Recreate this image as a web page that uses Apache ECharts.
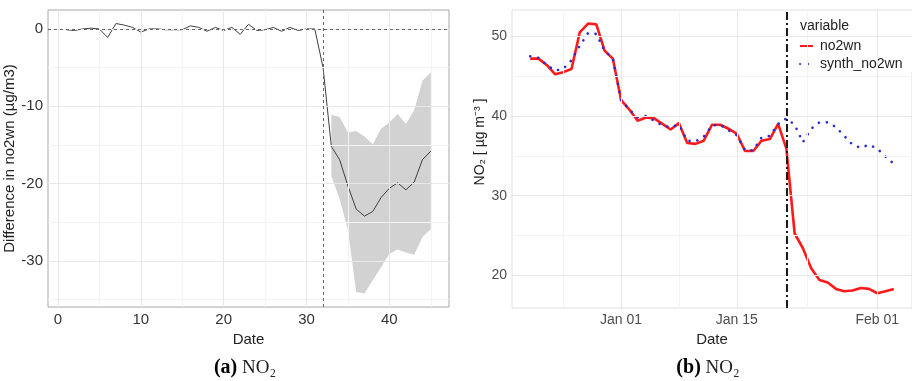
<!DOCTYPE html>
<html>
<head>
<meta charset="utf-8">
<script src="https://cdn.jsdelivr.net/npm/echarts@6/dist/echarts.min.js"></script>
<style>html,body{margin:0;padding:0;background:#fff;}#c{width:912px;height:381px;}</style>
</head>
<body>
<div id="c"></div>
<script>
// ---------- Panel (a): difference series ----------
const days = [1,2,3,4,5,6,7,8,9,10,11,12,13,14,15,16,17,18,19,20,21,22,23,24,25,26,27,28,29,30,31,32,33,34,35,36,37,38,39,40,41,42,43,44,45];
const diffValues = [-0.1,-0.2,0.0,0.1,0.0,-1.1,0.7,0.5,0.2,-0.4,0.0,0.0,-0.1,-0.1,-0.1,0.4,0.2,-0.3,0.2,-0.2,0.2,-0.7,0.6,-0.2,-0.1,0.2,-0.3,0.2,-0.2,0.0,0.0,-5.0,-15.2,-16.9,-20.3,-23.3,-24.2,-23.6,-21.8,-20.6,-19.9,-20.8,-19.8,-16.9,-15.8];
const ribbonDays  = [33,34,35,36,37,38,39,40,41,42,43,44,45];
const ribbonUpper = [-11.1,-11.4,-13.4,-13.2,-13.9,-14.9,-12.9,-12.1,-11.0,-12.3,-10.5,-6.7,-5.6];
const ribbonLower = [-19.0,-22.0,-26.0,-34.0,-34.2,-32.5,-30.8,-29.1,-28.5,-28.9,-29.2,-26.9,-25.9];
const leftXTicks = [0,10,20,30,40];
const leftYTicks = [0,-10,-20,-30];
const interventionDay = 32;

// ---------- Panel (b): observed vs synthetic ----------
const dates = ['2019-12-21','2019-12-22','2019-12-23','2019-12-24','2019-12-25','2019-12-26','2019-12-27','2019-12-28','2019-12-29','2019-12-30','2019-12-31',
  '2020-01-01','2020-01-02','2020-01-03','2020-01-04','2020-01-05','2020-01-06','2020-01-07','2020-01-08','2020-01-09','2020-01-10','2020-01-11','2020-01-12','2020-01-13','2020-01-14','2020-01-15','2020-01-16','2020-01-17','2020-01-18','2020-01-19','2020-01-20','2020-01-21','2020-01-22','2020-01-23','2020-01-24','2020-01-25','2020-01-26','2020-01-27','2020-01-28','2020-01-29','2020-01-30','2020-01-31','2020-02-01','2020-02-02','2020-02-03'];
const no2wn = [47.2,47.2,46.4,45.25,45.5,45.9,50.5,51.6,51.5,48.2,47.2,42.0,40.8,39.4,39.8,39.7,39.0,38.3,39.1,36.6,36.5,36.9,38.9,38.9,38.4,37.75,35.6,35.6,36.9,37.1,39.0,35.9,25.25,23.4,20.9,19.4,19.1,18.3,18.0,18.1,18.4,18.3,17.75,18.0,18.3];
const synthNo2wn = [47.5,47.3,46.4,45.7,45.9,47.0,48.8,50.4,50.3,48.2,47.2,42.0,40.8,39.8,40.0,39.4,38.8,38.6,38.9,36.9,36.8,37.4,38.8,38.9,38.2,37.6,35.7,35.7,37.3,37.5,39.0,39.7,38.9,36.7,38.4,39.2,39.2,38.6,37.5,36.4,36.0,36.4,35.9,34.9,34.0];
const rightTickDates  = ['2020-01-01','2020-01-15','2020-02-01'];
const rightTickLabels = ['Jan 01','Jan 15','Feb 01'];
const rightMinorDates = ['2019-12-25','2020-01-08','2020-01-23T12:00:00'];
const rightYTicks = [20,30,40,50];
const rightYMinor = [25,35,45];
const lockdownDate = '2020-01-21';

// helpers: day offset from Jan 01
const ref = Date.UTC(2020,0,1);
function off(s){ const p = s.split('T')[0].split('-').map(Number); let v=(Date.UTC(p[0],p[1]-1,p[2])-ref)/86400000; if(s.indexOf('T12')>0) v+=0.5; return v; }
const dayOff = dates.map(off);
const rightTickVals = rightTickDates.map(off);

const FONT = 'Liberation Sans';
const majorGrid = {color:'#e8e8e8', width:1, type:'solid'};
const minorGrid = {color:'#f3f3f3', width:1, type:'solid'};

function gridLines(xMajor, xMinor, yMajor, yMinor){
  const d = [];
  xMinor.forEach(v=>d.push({xAxis:v, lineStyle:minorGrid}));
  yMinor.forEach(v=>d.push({yAxis:v, lineStyle:minorGrid}));
  xMajor.forEach(v=>d.push({xAxis:v, lineStyle:majorGrid}));
  yMajor.forEach(v=>d.push({yAxis:v, lineStyle:majorGrid}));
  return {silent:true, symbol:['none','none'], label:{show:false}, animation:false, data:d};
}

const chart = echarts.init(document.getElementById('c'), null, {renderer:'canvas'});
const option = {
  animation:false,
  grid:[
    {left:48, top:10, width:401, height:297, show:true, borderColor:'#a8a8a8', borderWidth:1, backgroundColor:'transparent'},
    {left:512, top:10, width:400, height:298, show:true, borderColor:'#e0e0e0', borderWidth:1, backgroundColor:'transparent'}
  ],
  xAxis:[
    {gridIndex:0, type:'value', min:-1.2, max:47.2, splitLine:{show:false}, axisLine:{show:false}, axisTick:{show:false},
     axisLabel:{customValues:leftXTicks, color:'#333', fontSize:15, fontFamily:FONT, margin:5},
     name:'Date', nameLocation:'middle', nameGap:22, nameTextStyle:{fontSize:15, color:'#222', fontFamily:FONT}},
    {gridIndex:1, type:'value', min:-13.2, max:35.2, splitLine:{show:false}, axisLine:{show:false}, axisTick:{show:false},
     axisLabel:{customValues:rightTickVals, color:'#4d4d4d', fontSize:14, fontFamily:FONT, margin:5,
       formatter:function(v){ const i = rightTickVals.indexOf(v); return i>=0 ? rightTickLabels[i] : ''; }},
     name:'Date', nameLocation:'middle', nameGap:21, nameTextStyle:{fontSize:15, color:'#222', fontFamily:FONT}}
  ],
  yAxis:[
    {gridIndex:0, type:'value', min:-35.95, max:2.45, splitLine:{show:false}, axisLine:{show:false}, axisTick:{show:false},
     axisLabel:{customValues:leftYTicks, color:'#333', fontSize:15, fontFamily:FONT, margin:5},
     name:'Difference in no2wn (µg/m3)', nameLocation:'middle', nameGap:27, nameTextStyle:{fontSize:15, color:'#222', fontFamily:FONT}},
    {gridIndex:1, type:'value', min:15.9, max:53.3, splitLine:{show:false}, axisLine:{show:false}, axisTick:{show:false},
     axisLabel:{customValues:rightYTicks, color:'#4d4d4d', fontSize:14, fontFamily:FONT, margin:5},
     name:'NO₂ [ µg m⁻³ ]', nameLocation:'middle', nameGap:24, nameTextStyle:{fontSize:14, color:'#222', fontFamily:FONT, padding:[0,0,0,34]}}
  ],
  legend:{
    left:799, top:39, orient:'vertical', itemWidth:13, itemHeight:10, itemGap:4, padding:0,
    itemStyle:{opacity:0},
    textStyle:{fontSize:14, color:'#222', fontFamily:FONT, padding:[0,0,0,2]},
    data:['no2wn','synth_no2wn']
  },
  graphic:[
    {type:'rect', z:3, shape:{x:794, y:11, width:118, height:61}, style:{fill:'#ffffff'}},
    {type:'text', z:5, x:800, y:26, style:{text:'variable', fontSize:14, fontFamily:FONT, fill:'#222', verticalAlign:'middle', align:'left'}},
    {type:'text', z:5, x:245, y:368, style:{text:'{b|(a)}{n| NO₂}', align:'center', verticalAlign:'middle',
      rich:{b:{fontFamily:'Liberation Serif', fontWeight:'bold', fontSize:20, fill:'#000'}, n:{fontFamily:'Liberation Serif', fontSize:19, fill:'#222'}}}},
    {type:'text', z:5, x:708, y:368, style:{text:'{b|(b)}{n| NO₂}', align:'center', verticalAlign:'middle',
      rich:{b:{fontFamily:'Liberation Serif', fontWeight:'bold', fontSize:20, fill:'#000'}, n:{fontFamily:'Liberation Serif', fontSize:19, fill:'#222'}}}}
  ],
  series:[
    {type:'line', xAxisIndex:0, yAxisIndex:0, data:[], z:1, silent:true,
     markLine:gridLines(leftXTicks, [5,15,25,35,45], leftYTicks, [-5,-15,-25,-35])},
    {type:'custom', xAxisIndex:0, yAxisIndex:0, z:2, silent:true, clip:true,
     data:ribbonDays.map((d,i)=>[d, ribbonLower[i], ribbonUpper[i]]),
     encode:{x:0, y:[1,2]},
     renderItem:function(params, api){
       if(params.dataIndex!==0) return null;
       const pts=[];
       for(let i=0;i<ribbonDays.length;i++) pts.push(api.coord([ribbonDays[i], ribbonUpper[i]]));
       for(let i=ribbonDays.length-1;i>=0;i--) pts.push(api.coord([ribbonDays[i], ribbonLower[i]]));
       return {type:'polygon', shape:{points:pts}, style:{fill:'#d2d2d2', stroke:null}};
     }},
    {type:'line', xAxisIndex:0, yAxisIndex:0, z:3, name:'diff', symbol:'none', silent:true,
     data:days.map((d,i)=>[d, diffValues[i]]), lineStyle:{color:'#3f3f3f', width:1},
     markLine:{silent:true, symbol:['none','none'], label:{show:false},
       lineStyle:{color:'#666', width:1, type:[3,3]},
       data:[{yAxis:0},{xAxis:interventionDay}]}},
    {type:'line', xAxisIndex:1, yAxisIndex:1, data:[], z:1, silent:true,
     markLine:gridLines(rightTickVals, rightMinorDates.map(off), rightYTicks, rightYMinor)},
    {type:'line', xAxisIndex:1, yAxisIndex:1, z:4, name:'no2wn', symbol:'none', silent:true,
     data:dayOff.map((d,i)=>[d, no2wn[i]]), lineStyle:{color:'#ff1a1a', width:2.6}, itemStyle:{color:'#ff1a1a'},
     markLine:{silent:true, symbol:['none','none'], label:{show:false},
       lineStyle:{color:'#1a1a1a', width:2, type:[8,3,2,3]},
       data:[{xAxis:off(lockdownDate)}]}},
    {type:'line', xAxisIndex:1, yAxisIndex:1, z:4, name:'synth_no2wn', symbol:'none', silent:true,
     data:dayOff.map((d,i)=>[d, synthNo2wn[i]]), lineStyle:{color:'#2a2ad4', width:2.6, type:[0.1,8], cap:'round'}, itemStyle:{color:'#2a2ad4'}}
  ]
};
chart.setOption(option);
</script>
</body>
</html>
